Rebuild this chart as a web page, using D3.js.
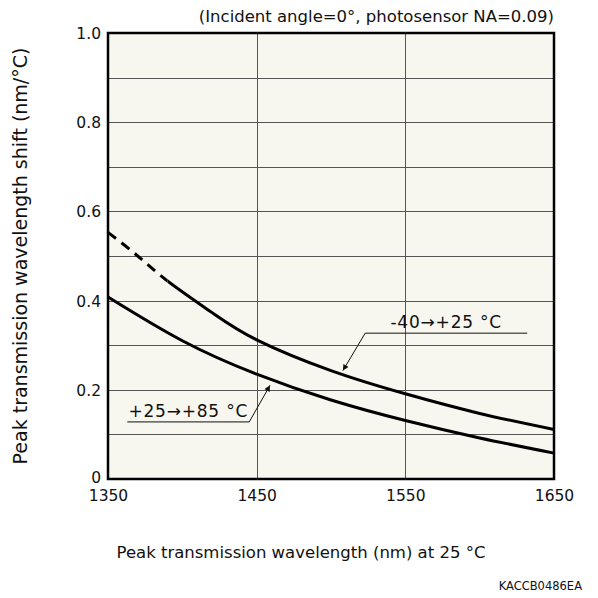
<!DOCTYPE html>
<html>
<head>
<meta charset="utf-8">
<script src="https://cdn.jsdelivr.net/npm/d3@7"></script>
<style>
  body { margin: 0; background: #fff; }
  text { font-family: "DejaVu Sans", Verdana, sans-serif; fill: #111; }
</style>
</head>
<body>
<div id="chart"></div>
<script>
(function() {
    var width = 598,
        height = 598;
    var margin = {left: 108, top: 33, right: 44, bottom: 119};
    var w = width - margin.left - margin.right,
        h = height - margin.top - margin.bottom;

    // data
    var xTicks = [1350, 1450, 1550, 1650];
    var yTicks = [0, 0.2, 0.4, 0.6, 0.8, 1.0];
    var yGrid = [0.1, 0.2, 0.3, 0.4, 0.5, 0.6, 0.7, 0.8, 0.9];
    var xGrid = [1450, 1550];

    // -40 -> +25 °C (dashed below 1390 nm)
    var coldWl  = [1350, 1370, 1390, 1420, 1450, 1500, 1550, 1600, 1650];
    var coldVal = [0.553, 0.500, 0.444, 0.373, 0.312, 0.243, 0.191, 0.147, 0.111];
    var coldDashEnd = 1390;

    // +25 -> +85 °C
    var hotWl  = [1350, 1400, 1450, 1500, 1550, 1600, 1650];
    var hotVal = [0.408, 0.310, 0.235, 0.177, 0.131, 0.092, 0.058];

    // labels: text, arrow tip, elbow, end of underline (data coords)
    var labelText = ["-40\u2192+25 \u00B0C", "+25\u2192+85 \u00B0C"];
    var labelTip  = [[1508, 0.243], [1459, 0.210]];
    var labelElb  = [[1523, 0.327], [1445, 0.128]];
    var labelEnd  = [[1632, 0.327], [1363, 0.128]];

    var svg = d3.select("#chart")
        .append("svg")
        .attr("width", width)
        .attr("height", height);

    var defs = svg.append("defs");
    defs.append("marker")
        .attr("id", "arrow")
        .attr("viewBox", "0 0 10 10")
        .attr("refX", 10).attr("refY", 5)
        .attr("markerWidth", 10).attr("markerHeight", 6)
        .attr("markerUnits", "userSpaceOnUse")
        .attr("orient", "auto")
        .append("path")
        .attr("d", "M0,0 L10,5 L0,10 z")
        .attr("fill", "#111");

    var x = d3.scaleLinear().domain([1350, 1650]).range([0, w]);
    var y = d3.scaleLinear().domain([0, 1]).range([h, 0]);

    defs.append("clipPath").attr("id", "clipDash")
        .append("rect")
        .attr("x", -5).attr("y", -5)
        .attr("width", x(coldDashEnd) + 5).attr("height", h + 10);
    defs.append("clipPath").attr("id", "clipSolid")
        .append("rect")
        .attr("x", x(coldDashEnd)).attr("y", -5)
        .attr("width", w - x(coldDashEnd) + 5).attr("height", h + 10);

    var g = svg.append("g")
        .attr("transform", "translate(" + margin.left + "," + margin.top + ")");

    g.append("rect")
        .attr("width", w).attr("height", h)
        .attr("fill", "#f7f6ef");

    g.selectAll(".hgrid")
        .data(yGrid)
        .enter().append("line")
        .attr("x1", 0).attr("x2", w)
        .attr("y1", function(d) { return Math.round(y(d)) + 0.5 })
        .attr("y2", function(d) { return Math.round(y(d)) + 0.5 })
        .attr("stroke", "#555").attr("stroke-width", 1);

    g.selectAll(".vgrid")
        .data(xGrid)
        .enter().append("line")
        .attr("y1", 0).attr("y2", h)
        .attr("x1", function(d) { return Math.round(x(d)) + 0.5 })
        .attr("x2", function(d) { return Math.round(x(d)) + 0.5 })
        .attr("stroke", "#555").attr("stroke-width", 1);

    var xAxis = g.append("g")
        .attr("transform", "translate(0," + h + ")")
        .call(d3.axisBottom(x).tickValues(xTicks).tickSize(0).tickPadding(11)
            .tickFormat(d3.format("d")));
    var yAxis = g.append("g")
        .call(d3.axisLeft(y).tickValues(yTicks).tickSize(0).tickPadding(7)
            .tickFormat(function(d) { return d == 0 ? "0" : d3.format(".1f")(d) }));
    [xAxis, yAxis].forEach(function(a) {
        a.select(".domain").remove();
        a.attr("font-family", null).attr("font-size", null);
        a.selectAll("text")
            .style("font-size", "15.5px")
            .attr("fill", "#111");
    });
    yAxis.selectAll("text").attr("dy", "0.35em");
    yAxis.selectAll(".tick").filter(function(d) { return d == 0 })
        .select("text").attr("dy", "0.2em");

    var line = d3.line()
        .x(function(d) { return x(d[0]) })
        .y(function(d) { return y(d[1]) })
        .curve(d3.curveNatural);

    var cold = coldWl.map(function(d, i) { return [d, coldVal[i]] });
    var hot = hotWl.map(function(d, i) { return [d, hotVal[i]] });

    g.append("path")
        .datum(cold)
        .attr("d", line)
        .attr("clip-path", "url(#clipDash)")
        .attr("fill", "none").attr("stroke", "#000")
        .attr("stroke-width", 3)
        .attr("stroke-dasharray", "10,7");
    g.append("path")
        .datum(cold)
        .attr("d", line)
        .attr("clip-path", "url(#clipSolid)")
        .attr("fill", "none").attr("stroke", "#000")
        .attr("stroke-width", 3);
    g.append("path")
        .datum(hot)
        .attr("d", line)
        .attr("fill", "none").attr("stroke", "#000")
        .attr("stroke-width", 3);

    // annotations
    labelText.forEach(function(t, i) {
        var tip = labelTip[i], elb = labelElb[i], end = labelEnd[i];
        g.append("polyline")
            .attr("points", [end, elb, tip].map(function(p) { return x(p[0]) + "," + y(p[1]) }).join(" "))
            .attr("fill", "none").attr("stroke", "#111").attr("stroke-width", 1)
            .attr("marker-end", "url(#arrow)");
        var left = Math.min(x(end[0]), x(elb[0]));
        var right = Math.max(x(end[0]), x(elb[0]));
        g.append("text")
            .attr("x", (left + right) / 2)
            .attr("y", y(elb[1]) - 5)
            .attr("text-anchor", "middle")
            .style("font-size", "17px")
            .style("letter-spacing", "0.8px")
            .text(t);
    });

    // frame
    g.append("rect")
        .attr("width", w).attr("height", h)
        .attr("fill", "none").attr("stroke", "#000").attr("stroke-width", 2.5);

    svg.append("text")
        .attr("x", margin.left + w)
        .attr("y", 22)
        .attr("text-anchor", "end")
        .style("font-size", "16.5px")
        .text("(Incident angle=0\u00B0, photosensor NA=0.09)");

    svg.append("text")
        .attr("transform", "translate(27," + (margin.top + h / 2) + ") rotate(-90)")
        .attr("text-anchor", "middle")
        .style("font-size", "19px")
        .text("Peak transmission wavelength shift (nm/\u00B0C)");

    svg.append("text")
        .attr("x", margin.left + w / 2 - 30)
        .attr("y", 558)
        .attr("text-anchor", "middle")
        .style("font-size", "16.5px")
        .text("Peak transmission wavelength (nm) at 25 \u00B0C");

    svg.append("text")
        .attr("x", 582)
        .attr("y", 590)
        .attr("text-anchor", "end")
        .style("font-size", "11.5px")
        .text("KACCB0486EA");
})();
</script>
</body>
</html>
